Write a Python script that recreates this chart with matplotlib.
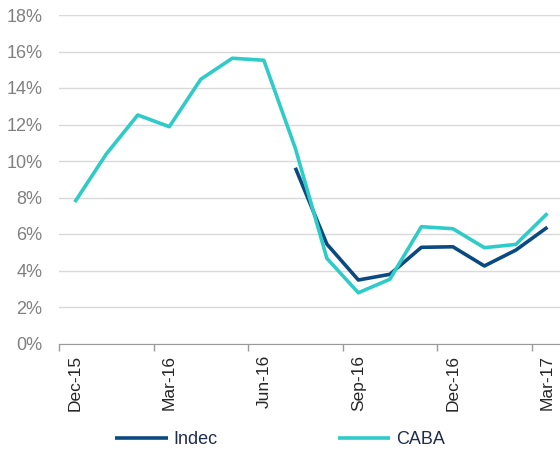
import matplotlib
matplotlib.use('Agg')
import matplotlib.pyplot as plt
import numpy as np

plt.rcParams['font.family'] = ['Liberation Sans', 'DejaVu Sans']

# monthly inflation, y/y
months = ['Dec-15', 'Jan-16', 'Feb-16', 'Mar-16', 'Apr-16', 'May-16', 'Jun-16',
          'Jul-16', 'Aug-16', 'Sep-16', 'Oct-16', 'Nov-16', 'Dec-16',
          'Jan-17', 'Feb-17', 'Mar-17']
caba = [7.75, 10.38, 12.52, 11.88, 14.48, 15.63, 15.52, 10.7, 4.67, 2.78,
        3.52, 6.4, 6.29, 5.25, 5.43, 7.13]
indec = [None, None, None, None, None, None, None, 9.63, 5.45, 3.48,
         3.79, 5.27, 5.3, 4.25, 5.12, 6.37]

x = np.arange(len(months))
indec_arr = np.array([np.nan if v is None else v for v in indec]) / 100
caba_arr = np.array(caba) / 100

fig = plt.figure(figsize=(5.6, 4.55), dpi=100)
ax = fig.add_axes([59 / 560, 1 - 343.5 / 455, 1 - 59 / 560, (343.5 - 15) / 455])

ax.plot(x, indec_arr, color='#0b4a80', lw=2.6, label='Indec', solid_capstyle='butt')
ax.plot(x, caba_arr, color='#2fcbc8', lw=2.6, label='CABA', solid_capstyle='butt')

ax.set_ylim(0, 0.18)
ax.set_yticks(np.arange(0, 0.181, 0.02))
ax.set_yticklabels([f'{int(round(v * 100))}%' for v in np.arange(0, 0.181, 0.02)])
ax.set_xlim(-0.5, 15.4)

ax.set_xticks(x[::3])
ax.set_xticklabels(months[::3], rotation=90)
ax.set_xticks(np.arange(-0.5, 15, 3), minor=True)
ax.tick_params(axis='x', which='major', length=0, pad=8, labelsize=12.5, labelcolor='#262626')
ax.tick_params(axis='x', which='minor', length=5, color='#999999', width=1)
ax.tick_params(axis='y', length=0, pad=12, labelsize=13, labelcolor='#808080')

ax.grid(axis='y', color='#d9d9d9', lw=1)
ax.set_axisbelow(True)
for s in ['top', 'right', 'left']:
    ax.spines[s].set_visible(False)
ax.spines['bottom'].set_color('#999999')

leg = fig.legend(loc='lower center', bbox_to_anchor=(0.5, -0.02), ncol=2, frameon=False,
                 fontsize=13, columnspacing=6.7, handlelength=2.9, handletextpad=0.3)
for t in leg.get_texts():
    t.set_color('#1f2d4d')

fig.savefig('out.png', dpi=100)
